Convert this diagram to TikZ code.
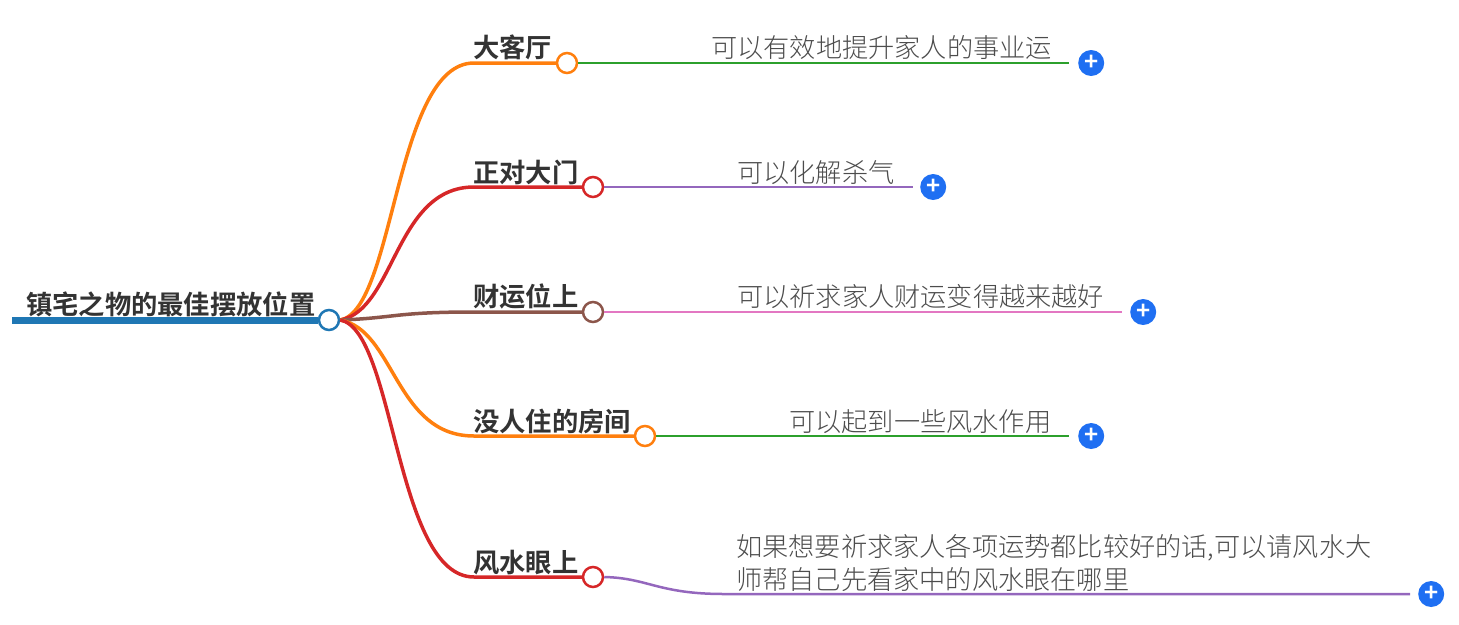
\documentclass[tikz,border=0pt]{standalone}
\usepackage{fontspec}
\setmainfont{Noto Sans CJK SC}[BoldFont={Noto Sans CJK SC Bold},UprightFont={Noto Sans CJK SC Light}]
\usetikzlibrary{positioning}
\definecolor{tabblue}{HTML}{1F77B4}
\definecolor{taborange}{HTML}{FF7F0E}
\definecolor{tabred}{HTML}{D62728}
\definecolor{tabbrown}{HTML}{8C564B}
\definecolor{tabgreen}{HTML}{2CA02C}
\definecolor{tabpurple}{HTML}{9467BD}
\definecolor{tabpink}{HTML}{E377C2}
\definecolor{plusblue}{HTML}{1F6FF2}
\tikzset{x=1pt,y=-1pt,
dot/.style={circle,draw,fill=white,line width=2.5pt,minimum size=20pt,inner sep=0pt},
topic/.style={anchor=base west,inner sep=0pt,font=\fontsize{26.3pt}{26pt}\bfseries,text=black!80},
leaf/.style={anchor=base west,inner sep=0pt,font=\fontsize{26.2pt}{33pt}\selectfont,text=black!70,align=left},
plus/.style={circle,fill=plusblue,text=white,minimum size=26pt,inner sep=0pt,font=\fontsize{24pt}{24pt}\bfseries},
branch/.style={line width=3.5pt},
twig/.style={line width=2.5pt}}

\begin{document}
\begin{tikzpicture}
\useasboundingbox (0,0) rectangle (1459,624);
\coordinate (rootstart) at (12,320);
\node[dot, draw=tabblue] (root) at (329,320) {};
\node[dot, draw=taborange] (n1) at (567,63) {};
\node[dot, draw=tabred] (n2) at (593,187) {};
\node[dot, draw=tabbrown] (n3) at (593,312) {};
\node[dot, draw=taborange] (n4) at (645,436) {};
\node[dot, draw=tabred] (n5) at (593,577) {};
\coordinate (e1) at (1069,63);
\coordinate (e2) at (913,187);
\coordinate (e3) at (1122,312);
\coordinate (e4) at (1069,436);
\coordinate (e5) at (1410,594);
\coordinate (j5) at (724,594);
\node[plus, right=9pt of e1] (p1) {+};
\node[plus, right=7pt of e2] (p2) {+};
\node[plus, right=8pt of e3] (p3) {+};
\node[plus, right=9pt of e4] (p4) {+};
\node[plus, right=8pt of e5] (p5) {+};
\draw[tabblue, line width=7pt] (rootstart) -- (root.west);
\draw[branch, taborange] (root.east) .. controls (395,310) and (395,63) .. (474,63) -- (n1.west);
\draw[branch, tabred] (root.east) .. controls (395,310) and (395,187) .. (474,187) -- (n2.west);
\draw[branch, tabbrown] (root.east) .. controls (395,318) and (395,312) .. (474,312) -- (n3.west);
\draw[branch, taborange] (root.east) .. controls (395,330) and (395,436) .. (474,436) -- (n4.west);
\draw[branch, tabred] (root.east) .. controls (395,330) and (395,577) .. (474,577) -- (n5.west);
\draw[twig, tabgreen] (n1.east) -- (e1);
\draw[twig, tabpurple] (n2.east) -- (e2);
\draw[twig, tabpink] (n3.east) -- (e3);
\draw[twig, tabgreen] (n4.east) -- (e4);
\draw[twig, tabpurple] (n5.east) .. controls (648,578) and (658,594) .. (j5) -- (e5);
\node[topic] (title) at (26,314) {镇宅之物的最佳摆放位置};
\node[topic] (t1) at (473,57) {大客厅};
\node[topic] (t2) at (473,182) {正对大门};
\node[topic] (t3) at (473,306) {财运位上};
\node[topic] (t4) at (473,431) {没人住的房间};
\node[topic] (t5) at (473,572) {风水眼上};
\node[leaf] (l1) at (711,57) {可以有效地提升家人的事业运};
\node[leaf] (l2) at (737,182) {可以化解杀气};
\node[leaf] (l3) at (737,306) {可以祈求家人财运变得越来越好};
\node[leaf] (l4) at (789,431) {可以起到一些风水作用};
\node[leaf, anchor=north west] (l5) at (736,534) {如果想要祈求家人各项运势都比较好的话,可以请风水大\\师帮自己先看家中的风水眼在哪里};
\end{tikzpicture}
\end{document}
